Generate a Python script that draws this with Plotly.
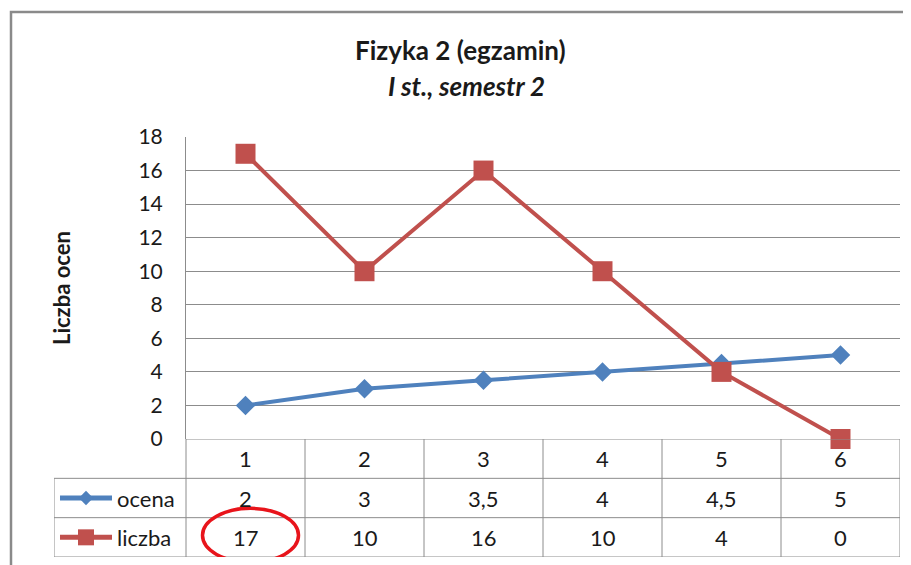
import plotly.graph_objects as go

# --- DATA ---
CATEGORIES = ["1", "2", "3", "4", "5", "6"]
OCENA = [2, 3, 3.5, 4, 4.5, 5]
LICZBA = [17, 10, 16, 10, 4, 0]
Y_TICKS = list(range(0, 20, 2))
SERIES_NAMES = ["ocena", "liczba"]
HIGHLIGHT = ("liczba", 0)  # red circle drawn round the first value of liczba

# styles per series: colour, marker, marker size, line width
STYLES = {"ocena": ("#4F81BD", "diamond", 15, 4),
          "liczba": ("#C0504D", "square", 20, 4)}
VALUES = {"ocena": OCENA, "liczba": LICZBA}

W, H = 911, 565
OFF = 8  # page body margin
FONT = "Lato, 'Open Sans', sans-serif"
GRID = "#8c8c8c"
TXT = "#1a1a1a"


def px_x(p): return (p - OFF) / W


def px_y(p): return (H - (p - OFF)) / H


# pixel layout (as seen in the reference)
PLOT_L, PLOT_R, PLOT_T, PLOT_B = 186, 900, 137, 439
TABLE_L, TABLE_B = 54, 557
cat_px = (PLOT_R - PLOT_L) / len(CATEGORIES)
row_px = (TABLE_B - PLOT_B) / 3

xs = list(range(1, len(CATEGORIES) + 1))
x2_left = 0.5 - (PLOT_L - TABLE_L) / cat_px

fig = go.Figure()

for name in SERIES_NAMES:
    color, sym, msize, lw = STYLES[name]
    fig.add_trace(go.Scatter(x=xs, y=VALUES[name], mode="lines+markers", name=name,
                             line=dict(color=color, width=lw),
                             marker=dict(symbol=sym, size=msize, color=color),
                             cliponaxis=False, showlegend=False))

shapes, annotations = [], []

# outer chart frame
shapes.append(dict(type="rect", xref="paper", yref="paper", x0=px_x(11), x1=px_x(930),
                   y0=px_y(590), y1=px_y(12), line=dict(color="#8a8a8a", width=2.5)))

# data table grid (x2 / y2 axes)
rows = 3
line = dict(color=GRID, width=1)
for r in range(rows + 1):
    x0 = x2_left if r <= 2 else 0.5
    shapes.append(dict(type="line", xref="x2", yref="y2", x0=x0, x1=len(xs) + 0.5,
                       y0=r, y1=r, line=line, layer="below"))
for i in range(len(xs) + 1):
    shapes.append(dict(type="line", xref="x2", yref="y2", x0=i + 0.5, x1=i + 0.5,
                       y0=0, y1=rows, line=line, layer="below"))
shapes.append(dict(type="line", xref="x2", yref="y2", x0=x2_left, x1=x2_left,
                   y0=0, y1=2, line=line, layer="below"))

# header row: categories
for x, c in zip(xs, CATEGORIES):
    annotations.append(dict(xref="x2", yref="y2", x=x, y=2.5, text=c, showarrow=False,
                            xanchor="center", yanchor="middle",
                            font=dict(size=22, color=TXT)))

# series rows
for k, name in enumerate(SERIES_NAMES):
    color, sym, msize, lw = STYLES[name]
    yrow = 1.5 - k
    for x, v in zip(xs, VALUES[name]):
        annotations.append(dict(xref="x2", yref="y2", x=x, y=yrow,
                                text=str(v).replace(".", ","), showarrow=False,
                                xanchor="center", yanchor="middle",
                                font=dict(size=22, color=TXT)))
    # legend key inside the table
    kx = [x2_left + 6 / cat_px, x2_left + 32 / cat_px, x2_left + 58 / cat_px]
    fig.add_trace(go.Scatter(x=kx, y=[yrow] * 3, mode="lines", xaxis="x2", yaxis="y2",
                             line=dict(color=color, width=lw + 1), showlegend=False,
                             hoverinfo="skip"))
    fig.add_trace(go.Scatter(x=[kx[1]], y=[yrow], mode="markers", xaxis="x2", yaxis="y2",
                             marker=dict(symbol=sym, size=msize - 4, color=color),
                             showlegend=False, hoverinfo="skip"))
    annotations.append(dict(xref="x2", yref="y2", x=x2_left + 61 / cat_px, y=yrow,
                            text=name, xanchor="left", yanchor="middle", showarrow=False,
                            font=dict(size=22, color=TXT)))

# highlight ellipse
hname, hidx = HIGHLIGHT
hrow = 1.5 - SERIES_NAMES.index(hname)
cx, cy = xs[hidx] + 5 / cat_px, hrow + 2 / row_px
shapes.append(dict(type="circle", xref="x2", yref="y2",
                   x0=cx - 48 / cat_px, x1=cx + 48 / cat_px,
                   y0=cy - 27 / row_px, y1=cy + 27 / row_px,
                   line=dict(color="#E8141B", width=3.5)))

# titles
annotations.append(dict(xref="paper", yref="paper", x=px_x(460), y=px_y(50),
                        xanchor="center", yanchor="middle",
                        text="<b>Fizyka 2 (egzamin)</b>", showarrow=False,
                        font=dict(size=26, color=TXT)))
annotations.append(dict(xref="paper", yref="paper", x=px_x(466), y=px_y(86),
                        xanchor="center", yanchor="middle",
                        text="<b><i>I st., semestr 2</i></b>", showarrow=False,
                        font=dict(size=26, color=TXT)))
annotations.append(dict(xref="paper", yref="paper", x=px_x(61), y=px_y(288),
                        xanchor="center", yanchor="middle",
                        text="<b>Liczba ocen</b>", textangle=-90, showarrow=False,
                        font=dict(size=22, color=TXT)))

fig.update_layout(
    width=W, height=H, margin=dict(l=0, r=0, t=0, b=0, autoexpand=False),
    paper_bgcolor="white", plot_bgcolor="white",
    font=dict(family=FONT, size=20, color=TXT),
    xaxis=dict(domain=[px_x(PLOT_L), px_x(PLOT_R)], range=[0.5, len(xs) + 0.5],
               showticklabels=False, showgrid=False, zeroline=False,
               showline=False, fixedrange=True, automargin=False),
    yaxis=dict(domain=[px_y(PLOT_B), px_y(PLOT_T)], range=[0, 18], tickvals=Y_TICKS,
               showgrid=True, gridcolor=GRID, gridwidth=1, zeroline=False,
               showline=True, linecolor=GRID, linewidth=1, ticks="",
               ticklabelstandoff=18, automargin=False,
               tickfont=dict(size=21, color=TXT)),
    xaxis2=dict(domain=[px_x(TABLE_L), px_x(PLOT_R)], range=[x2_left, len(xs) + 0.5],
                anchor="y2", visible=False, fixedrange=True, automargin=False),
    yaxis2=dict(domain=[px_y(TABLE_B), px_y(PLOT_B)], range=[0, rows], anchor="x2",
                visible=False, fixedrange=True, automargin=False),
    shapes=shapes, annotations=annotations,
)

fig.write_html("out.html")
